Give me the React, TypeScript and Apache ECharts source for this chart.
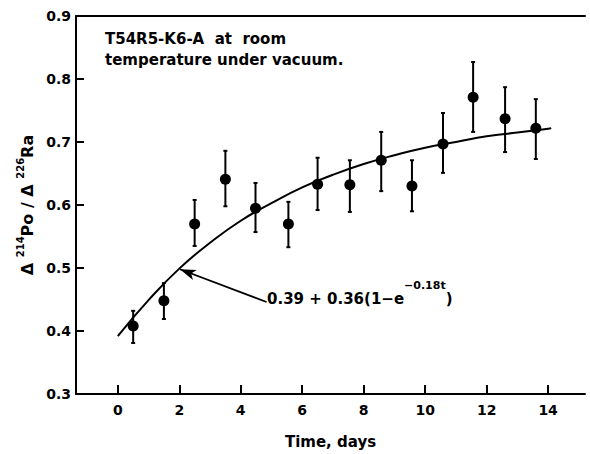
import React, { useEffect, useRef } from "react";
import * as echarts from "echarts";

// Measured points (time in days, activity ratio) with error-bar ends
const timeDays = [0.5, 1.5, 2.5, 3.5, 4.48, 5.55, 6.5, 7.55, 8.57, 9.57, 10.58, 11.56, 12.6, 13.6];
const ratio = [0.408, 0.448, 0.57, 0.641, 0.595, 0.57, 0.633, 0.632, 0.671, 0.63, 0.697, 0.771, 0.737, 0.722];
const errLow = [0.381, 0.419, 0.535, 0.598, 0.557, 0.533, 0.592, 0.589, 0.622, 0.59, 0.651, 0.716, 0.684, 0.673];
const errHigh = [0.432, 0.476, 0.608, 0.686, 0.635, 0.605, 0.675, 0.671, 0.716, 0.671, 0.746, 0.827, 0.787, 0.768];

// Fitted curve
const curveT = [0, 1, 2, 3, 4, 5, 6, 7, 8, 9, 10, 11, 12, 13, 14, 14.1];
const curveY = [0.392, 0.449, 0.499, 0.54, 0.575, 0.603, 0.628, 0.648, 0.665, 0.679, 0.691, 0.7, 0.709, 0.715, 0.721, 0.722];

// Axis ticks
const xTicks = [0, 2, 4, 6, 8, 10, 12, 14];

// Arrow annotation (tail -> tip, data coords)
const arrowTail = [4.84, 0.446];
const arrowTip = [2.02, 0.498];

const FONT = "DejaVu Sans";

export default function App() {
  const ref = useRef<HTMLDivElement>(null);
  useEffect(() => {
    if (!ref.current) return;
    const chart = echarts.init(ref.current, null, { renderer: "svg" });
    const axisLineStyle = { color: "#000", width: 2 };
    chart.setOption({
      animation: false,
      backgroundColor: "#fff",
      grid: { left: 76, right: 5, top: 16, bottom: 60 },
      xAxis: [
        {
          type: "value",
          min: -1.36,
          max: 15.2,
          axisLine: { show: true, onZero: false, lineStyle: axisLineStyle },
          axisTick: { show: true, inside: true, length: 9, customValues: xTicks, lineStyle: { color: "#000", width: 2 } },
          axisLabel: {
            customValues: xTicks,
            margin: 9,
            color: "#000",
            fontFamily: FONT,
            fontWeight: "bold",
            fontSize: 14,
          },
          splitLine: { show: false },
          name: "Time, days",
          nameLocation: "middle",
          nameGap: 40,
          nameTextStyle: { color: "#000", fontFamily: FONT, fontWeight: "bold", fontSize: 15 },
        },
        {
          type: "value",
          position: "top",
          min: -1.36,
          max: 15.2,
          axisLine: { show: true, onZero: false, lineStyle: axisLineStyle },
          axisTick: { show: false },
          axisLabel: { show: false },
          splitLine: { show: false },
        },
      ],
      yAxis: {
        type: "value",
        min: 0.3,
        max: 0.9,
        interval: 0.1,
        axisLine: { show: true, onZero: false, lineStyle: axisLineStyle },
        axisTick: { show: true, inside: true, length: 8, lineStyle: { color: "#000", width: 2 } },
        axisLabel: {
          margin: 5,
          color: "#000",
          fontFamily: FONT,
          fontWeight: "bold",
          fontSize: 14,
          formatter: (v: number) => v.toFixed(1),
        },
        splitLine: { show: false },
        name: "{m|Δ }{s|214}{m|Po / Δ }{s|226}{m|Ra}",
        nameLocation: "middle",
        nameRotate: 90,
        nameGap: 40,
        nameTextStyle: {
          rich: {
            m: { fontFamily: FONT, fontWeight: "bold", fontSize: 16, color: "#000", lineHeight: 20, verticalAlign: "bottom" },
            s: { fontFamily: FONT, fontWeight: "bold", fontSize: 10, color: "#000", lineHeight: 11, verticalAlign: "top" },
          },
        },
      },
      graphic: [
        {
          type: "text",
          x: 105,
          y: 39,
          style: {
            text: "T54R5-K6-A  at  room",
            font: `bold 15px "${FONT}"`,
            fill: "#000",
            textVerticalAlign: "middle",
          },
        },
        {
          type: "text",
          x: 105,
          y: 60,
          style: {
            text: "temperature under vacuum.",
            font: `bold 15px "${FONT}"`,
            fill: "#000",
            textVerticalAlign: "middle",
          },
        },
        {
          type: "text",
          x: 267,
          y: 293,
          style: {
            text: "{m|0.39 + 0.36(1−e}{s|−0.18t}{m|)}",
            textVerticalAlign: "middle",
            rich: {
              m: { fontFamily: FONT, fontWeight: "bold", fontSize: 15, fill: "#000", lineHeight: 27, verticalAlign: "bottom" },
              s: { fontFamily: FONT, fontWeight: "bold", fontSize: 11, fill: "#000", lineHeight: 12, verticalAlign: "top" },
            },
          },
        },
      ],
      series: [
        {
          type: "line",
          data: curveT.map((t, i) => [t, curveY[i]]),
          smooth: true,
          showSymbol: false,
          symbol: "none",
          lineStyle: { color: "#000", width: 2 },
          silent: true,
          markLine: {
            silent: true,
            animation: false,
            symbol: ["none", "arrow"],
            symbolSize: [8, 16],
            label: { show: false },
            lineStyle: { color: "#000", width: 1.8, type: "solid" },
            data: [[{ coord: arrowTail }, { coord: arrowTip }]],
          },
        },
        {
          type: "custom",
          data: timeDays.map((t, i) => [t, errLow[i], errHigh[i]]),
          encode: { x: 0, y: [1, 2] },
          silent: true,
          renderItem: (_params: any, api: any) => {
            const x = api.value(0);
            const lo = api.coord([x, api.value(1)]);
            const hi = api.coord([x, api.value(2)]);
            const s = { stroke: "#000", lineWidth: 2 };
            return {
              type: "group",
              children: [
                { type: "line", shape: { x1: lo[0], y1: lo[1], x2: hi[0], y2: hi[1] }, style: s },
                { type: "line", shape: { x1: lo[0] - 2, y1: lo[1], x2: lo[0] + 2, y2: lo[1] }, style: s },
                { type: "line", shape: { x1: hi[0] - 2, y1: hi[1], x2: hi[0] + 2, y2: hi[1] }, style: s },
              ],
            };
          },
        },
        {
          type: "scatter",
          data: timeDays.map((t, i) => [t, ratio[i]]),
          symbol: "circle",
          symbolSize: 11,
          itemStyle: { color: "#000", opacity: 1 },
          silent: true,
        },
      ],
    });
    return () => chart.dispose();
  }, []);
  return <div ref={ref} style={{ width: 590, height: 454, position: "fixed", left: 0, top: 0 }} />;
}
